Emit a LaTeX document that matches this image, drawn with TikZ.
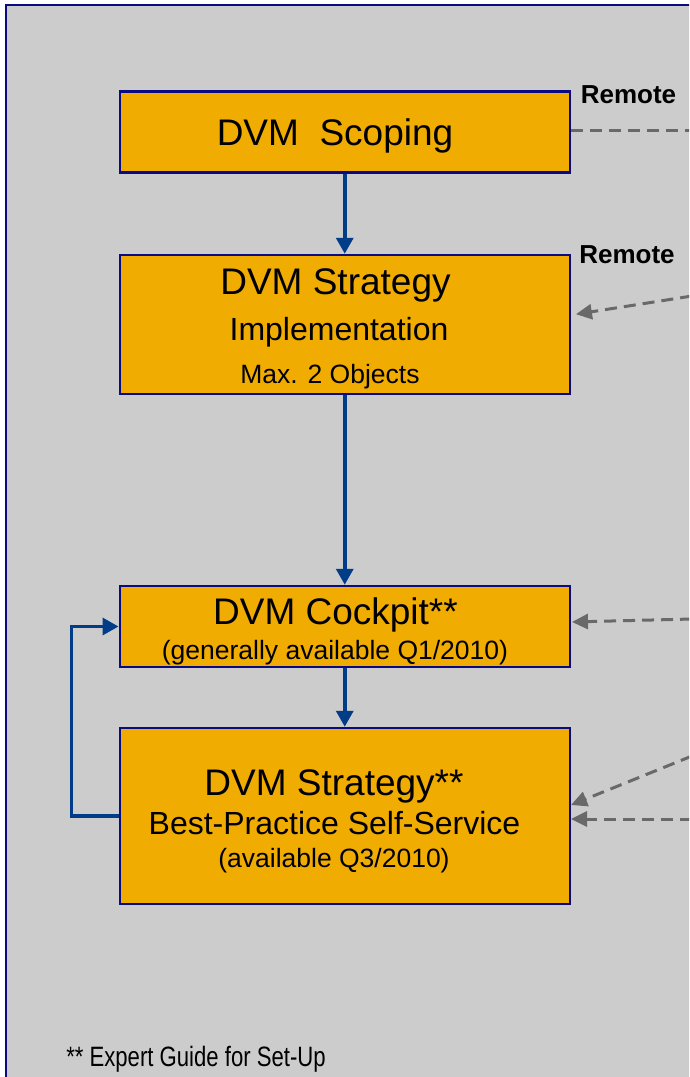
\documentclass[tikz,border=0pt]{standalone}
\usepackage{fontspec}
\setmainfont{Liberation Sans}
\usetikzlibrary{arrows.meta}
\definecolor{bgray}{RGB}{204,204,204}
\definecolor{boxfill}{RGB}{240,172,0}
\definecolor{navyline}{RGB}{10,10,130}
\definecolor{flowblue}{RGB}{0,60,135}
\definecolor{dashgray}{RGB}{105,105,105}
\tikzset{
  stagebox/.style={draw=navyline, line width=2.5pt, fill=boxfill, minimum width=450pt, inner sep=0pt},
  flow/.style={draw=flowblue, line width=3.5pt, -{Triangle[width=17pt,length=16pt]}},
  remote/.style={draw=dashgray, line width=3pt, dash pattern=on 12pt off 7pt, -{Triangle[width=15pt,length=16pt]}},
  remoteplain/.style={draw=dashgray, line width=3pt, dash pattern=on 12pt off 7pt},
  txt/.style={anchor=base, inner sep=0pt, text=black},
  big/.style={txt, font=\fontsize{37}{40}\selectfont},
  mid/.style={txt, font=\fontsize{32}{36}\selectfont},
  small/.style={txt, font=\fontsize{26.5}{30}\selectfont},
  lbl/.style={txt, font=\bfseries\fontsize{26}{30}\selectfont},
}
\begin{document}
\begin{tikzpicture}[x=1pt,y=-1pt]
\useasboundingbox (0,0) rectangle (689,1077);
\clip (0,0) rectangle (689,1077);
\fill[white] (0,0) rectangle (689,1077);
\draw[navyline, line width=2.5pt, fill=bgray] (6,5) rectangle (700,1090);

% boxes
\node[stagebox, minimum height=81pt] (b1) at (344.75,132) {};
\node[stagebox, minimum height=139pt] (b2) at (344.75,324.5) {};
\node[stagebox, minimum height=81pt] (b3) at (344.75,626.5) {};
\node[stagebox, minimum height=176pt] (b4) at (344.75,816) {};

% texts
\node[big] (t1) at (335,145) {DVM\ \ Scoping};
\node[big] (t2a) at (335.5,294) {DVM Strategy};
\node[mid] (t2b) at (339,340) {Implementation};
\node[small] (t2c) at (330,383) {Max. 2 Objects};
\node[big] (t3a) at (335.5,624) {DVM Cockpit**};
\node[small] (t3b) at (335,659) {(generally available Q1/2010)};
\node[big] (t4a) at (334,795) {DVM Strategy**};
\node[mid] (t4b) at (334.5,834) {Best-Practice Self-Service};
\node[small] (t4c) at (334,867) {(available Q3/2010)};

\node[lbl] (rem1) at (628.5,103) {Remote};
\node[lbl] (rem2) at (627,263) {Remote};

\node[txt] (foot) at (196,1066) {\scalebox{0.79}[1]{\fontsize{28}{30}\selectfont ** Expert Guide for Set-Up}};

% flow arrows
\draw[flow] (b1.south) -- (b2.north);
\draw[flow] (b2.south) -- (b3.north);
\draw[flow] (b3.south) -- (b4.north);
\draw[flow] (b4.west) -- ++(-47,0) |- (b3.west);

% remote dashed connectors
\coordinate (r1) at (692,130);
\coordinate (r2) at (692,296);
\coordinate (r3) at (692,619);
\coordinate (r4) at (692,756);
\coordinate (r5) at (692,819);
\draw[remoteplain] ([yshift=2pt]b1.east) -- (r1);
\draw[remote, shorten >=5pt] (r2) -- ([yshift=9.5pt]b2.east);
\draw[remote, shorten >=1pt] (r3) -- ([yshift=4.5pt]b3.east);
\draw[remote] (r4) -- ([yshift=11pt]b4.east);
\draw[remote] (r5) -- ([yshift=-3pt]b4.east);
\end{tikzpicture}
\end{document}
